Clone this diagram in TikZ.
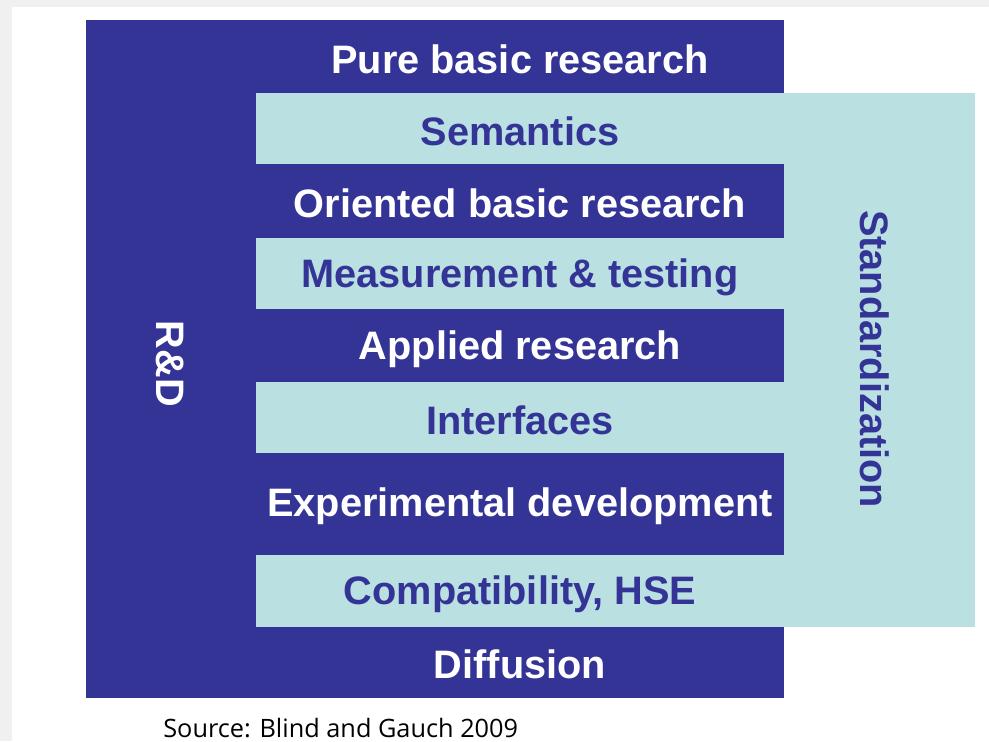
\documentclass[tikz,border=0pt]{standalone}
\usepackage{fontspec}
\setmainfont{Liberation Sans}
\newfontfamily\srcfont{Open Sans}
\definecolor{rdblue}{RGB}{52,51,150}
\definecolor{stdcyan}{RGB}{186,224,226}
\definecolor{pagegrey}{RGB}{240,240,240}
\tikzset{
  bandtext/.style={font=\fontsize{22.6}{26}\selectfont\bfseries, inner sep=0pt},
  darktext/.style={bandtext, text=white},
  lighttext/.style={bandtext, text=rdblue}
}

\begin{document}
\begin{tikzpicture}[x=0.02cm,y=-0.02cm]
\useasboundingbox (0,0) rectangle (989,741);
\clip (0,0) rectangle (989,741);
% Page background
\fill[pagegrey] (0,0) rectangle (989,741);
\fill[white] (12,7) rectangle (989,741);
% Corners of the two blocks
\coordinate (rdtl) at (86,20);
\coordinate (rdbr) at (784,698);
\coordinate (stdtl) at (784,93);
\coordinate (stdbr) at (975,627);
% R&D block and standardization block
\fill[rdblue] (rdtl) rectangle (rdbr);
\fill[stdcyan] (stdtl) rectangle (stdbr);
% Light strips reaching into the R&D block
\fill[stdcyan] (256,93) rectangle (784,164);
\fill[stdcyan] (256,238) rectangle (784,309);
\fill[stdcyan] (256,382) rectangle (784,453);
\fill[stdcyan] (256,555) rectangle (784,627);
% Labels of the dark bands
\node[darktext] (pure) at (520,59) {Pure basic research};
\node[darktext] (oriented) at (520,203) {Oriented basic research};
\node[darktext] (applied) at (520,349) {Applied research};
\node[darktext] (experimental) at (520,506) {Experimental development};
\node[darktext] (diffusion) at (520,664) {Diffusion};
% Labels of the light strips
\node[lighttext] (semantics) at (520,131) {Semantics};
\node[lighttext] (measurement) at (520,277) {Measurement \& testing};
\node[lighttext] (interfaces) at (520,420) {Interfaces};
\node[lighttext] (compat) at (520,594) {Compatibility, HSE};
% Side labels
\node[darktext, rotate=-90] (rd) at (170,364) {R\&D};
\node[lighttext, rotate=-90] (standard) at (875,359) {Standardization};
% Source line
\node[anchor=base west, inner sep=0pt, font=\srcfont\fontsize{14.4}{16}\selectfont] (source) at (163,737) {Source: Blind and Gauch 2009};
\end{tikzpicture}
\end{document}
